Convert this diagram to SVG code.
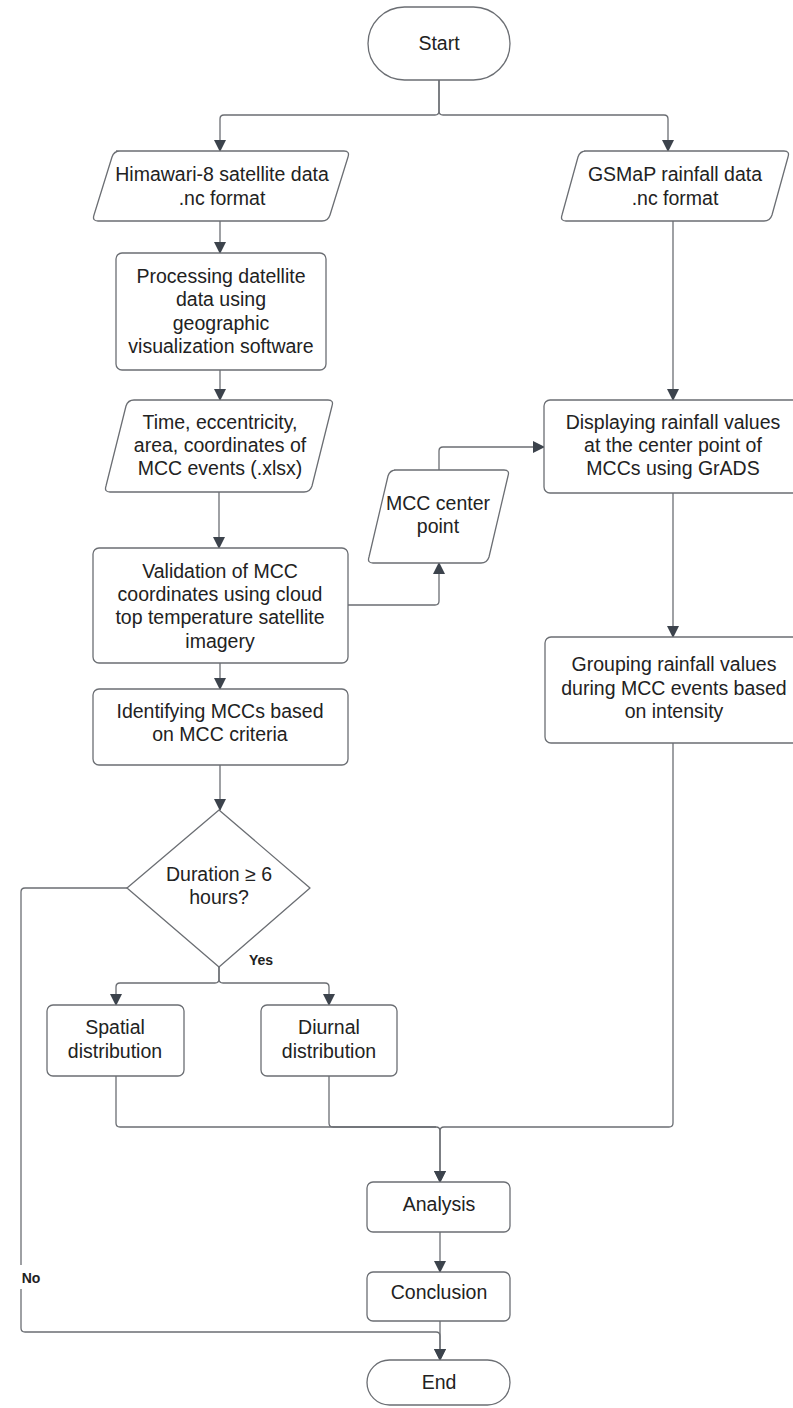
<svg xmlns="http://www.w3.org/2000/svg" width="793" height="1408" viewBox="0 0 793 1408">
<defs>
<style>
.shape{fill:#ffffff;stroke:#6b6e73;stroke-width:1.3}
.t{font-family:"Liberation Sans",Arial,sans-serif;font-size:19.5px;fill:#222222;text-anchor:middle}
.lbl{font-family:"Liberation Sans",Arial,sans-serif;font-size:14px;font-weight:bold;fill:#222222;text-anchor:middle}
.c{fill:none;stroke:#6b6e73;stroke-width:1.3}
</style>
<marker id="ah" markerWidth="12" markerHeight="14" refX="11" refY="6" orient="auto" markerUnits="userSpaceOnUse">
<path d="M0,0 L12,6 L0,12 Z" fill="#3c434c"/>
</marker>
</defs>
<rect width="793" height="1408" fill="#ffffff"/>
<g id="connectors">
<path class="c" d="M439,80 V111 Q439,115 435,115 H224 Q220,115 220,119 V151" marker-end="url(#ah)"/>
<path class="c" d="M439,80 V111 Q439,115 443,115 H664 Q668,115 668,119 V151" marker-end="url(#ah)"/>
<path class="c" d="M220,221 V253" marker-end="url(#ah)"/>
<path class="c" d="M220,370 V400" marker-end="url(#ah)"/>
<path class="c" d="M219,492 V548" marker-end="url(#ah)"/>
<path class="c" d="M348,605 H435 Q439,605 439,601 V563" marker-end="url(#ah)"/>
<path class="c" d="M439,470 V451 Q439,447 443,447 H544" marker-end="url(#ah)"/>
<path class="c" d="M673,221 V400" marker-end="url(#ah)"/>
<path class="c" d="M673,493 V637" marker-end="url(#ah)"/>
<path class="c" d="M220,663 V689" marker-end="url(#ah)"/>
<path class="c" d="M220,765 V810" marker-end="url(#ah)"/>
<path class="c" d="M219,967 V979 Q219,983 215,983 H120 Q116,983 116,987 V1005" marker-end="url(#ah)"/>
<path class="c" d="M219,967 V979 Q219,983 223,983 H325 Q329,983 329,987 V1005" marker-end="url(#ah)"/>
<path class="c" d="M116,1076 V1123 Q116,1127 120,1127 H436 Q440,1127 440,1131 V1182" marker-end="url(#ah)"/>
<path class="c" d="M329,1076 V1123 Q329,1127 333,1127 H436"/>
<path class="c" d="M673,743 V1123 Q673,1127 669,1127 H444 Q440,1127 440,1131 V1182" marker-end="url(#ah)"/>
<path class="c" d="M440,1232 V1272" marker-end="url(#ah)"/>
<path class="c" d="M440,1321 V1360" marker-end="url(#ah)"/>
<path class="c" d="M127,888 H25 Q21,888 21,892 V1265"/>
<path class="c" d="M21,1289 V1328 Q21,1332 25,1332 H436 Q440,1332 440,1336 V1360" marker-end="url(#ah)"/>
<text class="lbl" x="261" y="965">Yes</text>
<text class="lbl" x="31" y="1283">No</text>
</g>
<g id="start">
<rect class="shape" x="368" y="7" width="142" height="73" rx="36.5"/>
<text class="t" x="439" y="50">Start</text>
</g>
<g id="himawari">
<path class="shape" d="M116,151 H344 Q350,151 348,157 L330,215 Q328,221 322,221 H98 Q92,221 94,215 L112,157 Q114,151 120,151 Z"/>
<text class="t" x="222" y="181">Himawari-8 satellite data</text>
<text class="t" x="222" y="205">.nc format</text>
</g>
<g id="gsmap">
<path class="shape" d="M584,151 H784 Q790,151 788,157 L772,215 Q770,221 764,221 H566 Q560,221 562,215 L578,157 Q580,151 586,151 Z"/>
<text class="t" x="675" y="181">GSMaP rainfall data</text>
<text class="t" x="675" y="205">.nc format</text>
</g>
<g id="processing">
<rect class="shape" x="116" y="253" width="210" height="117" rx="6"/>
<text class="t" x="221" y="283">Processing datellite</text>
<text class="t" x="221" y="306">data using</text>
<text class="t" x="221" y="330">geographic</text>
<text class="t" x="221" y="353">visualization software</text>
</g>
<g id="time">
<path class="shape" d="M134,400 H328 Q334,400 332,406 L312,486 Q310,492 304,492 H110 Q104,492 106,486 L126,406 Q128,400 134,400 Z"/>
<text class="t" x="220" y="429">Time, eccentricity,</text>
<text class="t" x="220" y="452">area, coordinates of</text>
<text class="t" x="220" y="475">MCC events (.xlsx)</text>
</g>
<g id="displaying">
<rect class="shape" x="544" y="400" width="260" height="93" rx="6"/>
<text class="t" x="673" y="429">Displaying rainfall values</text>
<text class="t" x="673" y="452">at the center point of</text>
<text class="t" x="673" y="475">MCCs using GrADS</text>
</g>
<g id="mcc-center">
<path class="shape" d="M394,470 H504 Q510,470 508,476 L489,557 Q487,563 481,563 H373 Q367,563 369,557 L388,476 Q390,470 396,470 Z"/>
<text class="t" x="438" y="510">MCC center</text>
<text class="t" x="438" y="533">point</text>
</g>
<g id="validation">
<rect class="shape" x="93" y="548" width="255" height="115" rx="6"/>
<text class="t" x="220" y="578">Validation of MCC</text>
<text class="t" x="220" y="601">coordinates using cloud</text>
<text class="t" x="220" y="624">top temperature satellite</text>
<text class="t" x="220" y="648">imagery</text>
</g>
<g id="grouping">
<rect class="shape" x="545" y="637" width="260" height="106" rx="6"/>
<text class="t" x="674" y="671">Grouping rainfall values</text>
<text class="t" x="674" y="695">during MCC events based</text>
<text class="t" x="674" y="718">on intensity</text>
</g>
<g id="identifying">
<rect class="shape" x="93" y="689" width="255" height="76" rx="6"/>
<text class="t" x="220" y="718">Identifying MCCs based</text>
<text class="t" x="220" y="741">on MCC criteria</text>
</g>
<g id="decision">
<path class="shape" d="M219,810 L310,888 L219,967 L127,888 Z" stroke-linejoin="round"/>
<text class="t" x="219" y="881">Duration ≥ 6</text>
<text class="t" x="219" y="904">hours?</text>
</g>
<g id="spatial">
<rect class="shape" x="47" y="1005" width="137" height="71" rx="6"/>
<text class="t" x="115" y="1034">Spatial</text>
<text class="t" x="115" y="1058">distribution</text>
</g>
<g id="diurnal">
<rect class="shape" x="261" y="1005" width="136" height="71" rx="6"/>
<text class="t" x="329" y="1034">Diurnal</text>
<text class="t" x="329" y="1058">distribution</text>
</g>
<g id="analysis">
<rect class="shape" x="367" y="1182" width="143" height="50" rx="6"/>
<text class="t" x="439" y="1211">Analysis</text>
</g>
<g id="conclusion">
<rect class="shape" x="367" y="1272" width="143" height="49" rx="6"/>
<text class="t" x="439" y="1299">Conclusion</text>
</g>
<g id="end">
<rect class="shape" x="367" y="1360" width="143" height="45" rx="22.5"/>
<text class="t" x="439" y="1389">End</text>
</g>
</svg>
